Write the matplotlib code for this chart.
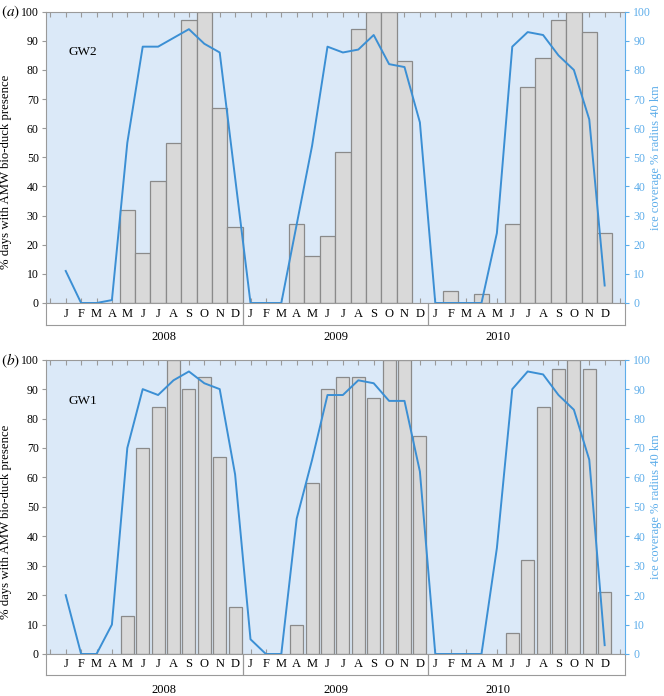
import numpy as np
import matplotlib
matplotlib.use("Agg")
import matplotlib.pyplot as plt

# Fonts: Times-like serif everywhere
plt.rcParams['font.family'] = ['Liberation Serif', 'DejaVu Serif']
plt.rcParams['mathtext.fontset'] = 'stix'

# Data (monthly, Jan 2008 .. Dec 2010)
months = ['J', 'F', 'M', 'A', 'M', 'J', 'J', 'A', 'S', 'O', 'N', 'D']
years = ['2008', '2009', '2010']

gw2_presence = [0, 0, 0, 0, 32, 17, 42, 55, 97, 100, 67, 26,
                0, 0, 0, 27, 16, 23, 52, 94, 100, 100, 83, 0,
                0, 4, 0, 3, 0, 27, 74, 84, 97, 100, 93, 24]
gw2_ice = [11, 0, 0, 1, 55, 88, 88, 91, 94, 89, 86, 43,
           0, 0, 0, 27, 54, 88, 86, 87, 92, 82, 81, 62,
           0, 0, 0, 0, 24, 88, 93, 92, 85, 80, 63, 6]

gw1_presence = [0, 0, 0, 0, 13, 70, 84, 100, 90, 94, 67, 16,
                0, 0, 0, 10, 58, 90, 94, 94, 87, 100, 100, 74,
                0, 0, 0, 0, 0, 7, 32, 84, 97, 100, 97, 21]
gw1_ice = [20, 0, 0, 10, 70, 90, 88, 93, 96, 92, 90, 61,
           5, 0, 0, 46, 66, 88, 88, 93, 92, 86, 86, 62,
           0, 0, 0, 0, 36, 90, 96, 95, 88, 83, 66, 3]

year_label_x = [6.4, 17.55, 28.1]

# Colours
bg_blue = '#dbe9f8'
bar_fill = '#d9d9d9'
bar_edge = '#8a8a8a'
line_blue = '#3b8fd4'
axis_blue = '#5dadea'
frame_gray = '#9a9a9a'

fig = plt.figure(figsize=(6.64, 6.96), dpi=100)

W, H = 664.0, 696.0
x0, x1 = 45.7, 625.0
xlim = (-1.3, 36.32)


def draw_panel(top, zero, box_bottom, presence, ice, bar_w, tag, site, year_gap):
    # main plot area (0-100)
    ax = fig.add_axes([x0 / W, 1 - zero / H, (x1 - x0) / W, (zero - top) / H])
    # box with month labels below
    axb = fig.add_axes([x0 / W, 1 - box_bottom / H, (x1 - x0) / W, (box_bottom - zero) / H],
                       sharex=ax)

    idx = np.arange(len(presence))
    pres = np.array(presence)
    keep = pres > 0
    ax.set_facecolor(bg_blue)
    ax.bar(idx[keep], pres[keep], width=bar_w, color=bar_fill,
           edgecolor=bar_edge, linewidth=0.9, zorder=2)
    ax.set_xlim(*xlim)
    ax.set_ylim(0, 100)
    ax.set_yticks(np.arange(0, 101, 10))
    ax.set_xticks(np.arange(-1, 37))
    ax.tick_params(axis='x', which='both', top=True, bottom=True, direction='in',
                   length=3.5, color=frame_gray, labelbottom=False)
    ax.tick_params(axis='y', direction='out', length=3, color=frame_gray,
                   labelsize=8.5, pad=2)
    for s in ['left', 'top', 'bottom']:
        ax.spines[s].set_color(frame_gray)
    ax.spines['right'].set_visible(False)
    ax.set_ylabel('% days with AMW bio-duck presence', fontsize=9.2)
    ax.yaxis.set_label_coords(-0.058, 0.45)

    # ice coverage on right axis
    ax2 = ax.twinx()
    ax2.plot(idx, ice, color=line_blue, linewidth=1.4, zorder=3)
    ax2.set_ylim(0, 100)
    ax2.set_yticks(np.arange(0, 101, 10))
    ax2.tick_params(axis='y', direction='out', length=3, color=axis_blue,
                    labelcolor=axis_blue, labelsize=8.5, pad=3)
    ax2.spines['right'].set_color(axis_blue)
    for s in ['left', 'top', 'bottom']:
        ax2.spines[s].set_visible(False)
    ax2.set_ylabel('ice coverage % radius 40 km', color=axis_blue, fontsize=9)
    ax2.yaxis.set_label_coords(1.044, 0.5)

    # site name
    ax.text(0.15, 86, site, fontsize=9.5, va='center', ha='left', zorder=4)

    # month box
    axb.set_facecolor('white')
    axb.set_ylim(0, 1)
    axb.tick_params(left=False, bottom=False, labelleft=False, labelbottom=False)
    for s in axb.spines.values():
        s.set_color(frame_gray)
    for i in idx:
        axb.text(i, 0.5, months[i % 12], ha='center', va='center', fontsize=9)
    for b in [11.5, 23.5]:
        axb.axvline(b, color=frame_gray, linewidth=0.9)
    for xl, yr in zip(year_label_x, years):
        axb.text(xl, -year_gap, yr, ha='center', va='center', fontsize=9)

    # panel tag
    fig.text(1.0 / W, 1 - (top + 1) / H, tag, fontsize=11, va='center', ha='left')


draw_panel(11.7, 303.0, 325.0, gw2_presence, gw2_ice, 1.0, r'$(a)$', 'GW2', 0.55)
draw_panel(359.7, 654.0, 674.7, gw1_presence, gw1_ice, 0.84, r'$(b)$', 'GW1', 0.72)

fig.savefig('out.png', dpi=100)
